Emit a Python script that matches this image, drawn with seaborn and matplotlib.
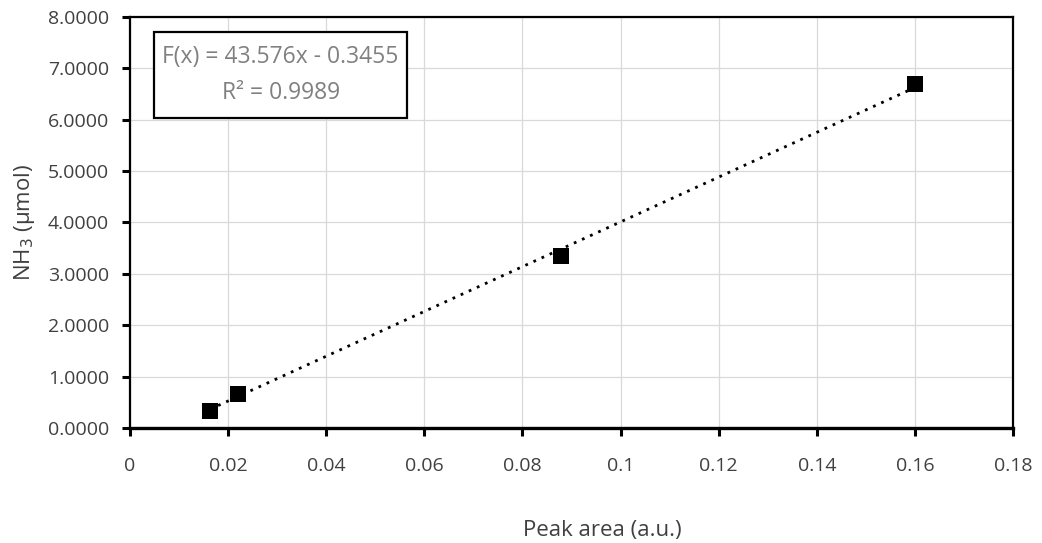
import numpy as np
import pandas as pd
import matplotlib
matplotlib.use("Agg")
import matplotlib.pyplot as plt
from matplotlib.patches import Rectangle
import seaborn as sns
from matplotlib.ticker import FormatStrFormatter, FuncFormatter

# Calibration standards: peak area vs. amount of NH3
peak_area = [0.0163, 0.0220, 0.0879, 0.1600]
nh3_umol = [0.335, 0.669, 3.35, 6.69]

# Linear fit reported for the calibration
slope = 43.576
intercept = -0.3455
r_squared = 0.9989

x_ticks = [0, 0.02, 0.04, 0.06, 0.08, 0.1, 0.12, 0.14, 0.16, 0.18]
y_ticks = [0, 1, 2, 3, 4, 5, 6, 7, 8]

sns.set_theme(style="whitegrid")
plt.rcParams["font.family"] = ["Open Sans", "DejaVu Sans"]

df = pd.DataFrame({"area": peak_area, "nh3": nh3_umol})

fig = plt.figure(figsize=(10.42, 5.43), dpi=100)
ax = fig.add_axes([0.1248, 0.2118, 0.8474, 0.7569])

# Trendline from the fitted equation over the span of the standards
x_fit = np.array([min(peak_area), max(peak_area)])
ax.plot(x_fit, slope * x_fit + intercept, linestyle=(0, (1, 2.2)),
        color="black", linewidth=2.0, zorder=2)

sns.scatterplot(data=df, x="area", y="nh3", marker="s", s=135,
                color="black", edgecolor="black", linewidth=0, ax=ax, zorder=3)

ax.set_xlim(0, 0.18)
ax.set_ylim(0, 8)
ax.set_xticks(x_ticks)
ax.set_yticks(y_ticks)
ax.xaxis.set_major_formatter(FuncFormatter(lambda v, p: f"{v:g}"))
ax.yaxis.set_major_formatter(FormatStrFormatter("%.4f"))

ax.grid(True, color="#d9d9d9", linewidth=0.9)
ax.set_axisbelow(True)
for side in ["left", "right", "top"]:
    ax.spines[side].set_color("black")
    ax.spines[side].set_linewidth(1.6)
ax.spines["bottom"].set_color("black")
ax.spines["bottom"].set_linewidth(2.4)

ax.tick_params(axis="both", direction="out", length=6, width=2.2,
               color="black", labelsize=14, labelcolor="#404040",
               bottom=True, left=True)
ax.tick_params(axis="y", pad=9)
ax.tick_params(axis="x", pad=15)

ax.set_xlabel("Peak area (a.u.)", fontsize=16, color="#404040", labelpad=24)
ax.xaxis.set_label_coords(0.535, -0.225)
ax.set_ylabel("NH$_3$ (μmol)", fontsize=16, color="#404040", labelpad=8)

# Equation box
ax.add_patch(Rectangle((0.0272, 0.754), 0.2865, 0.2095, transform=ax.transAxes,
                       facecolor="white", edgecolor="black", linewidth=1.6,
                       zorder=4))
ax.text(0.1705, 0.859,
        f"F(x) = {slope:.3f}x - {-intercept:.4f}\nR² = {r_squared:.4f}",
        transform=ax.transAxes, ha="center", va="center", fontsize=16.5,
        color="#808080", linespacing=1.7, zorder=5)

fig.savefig("out.png", dpi=100)
